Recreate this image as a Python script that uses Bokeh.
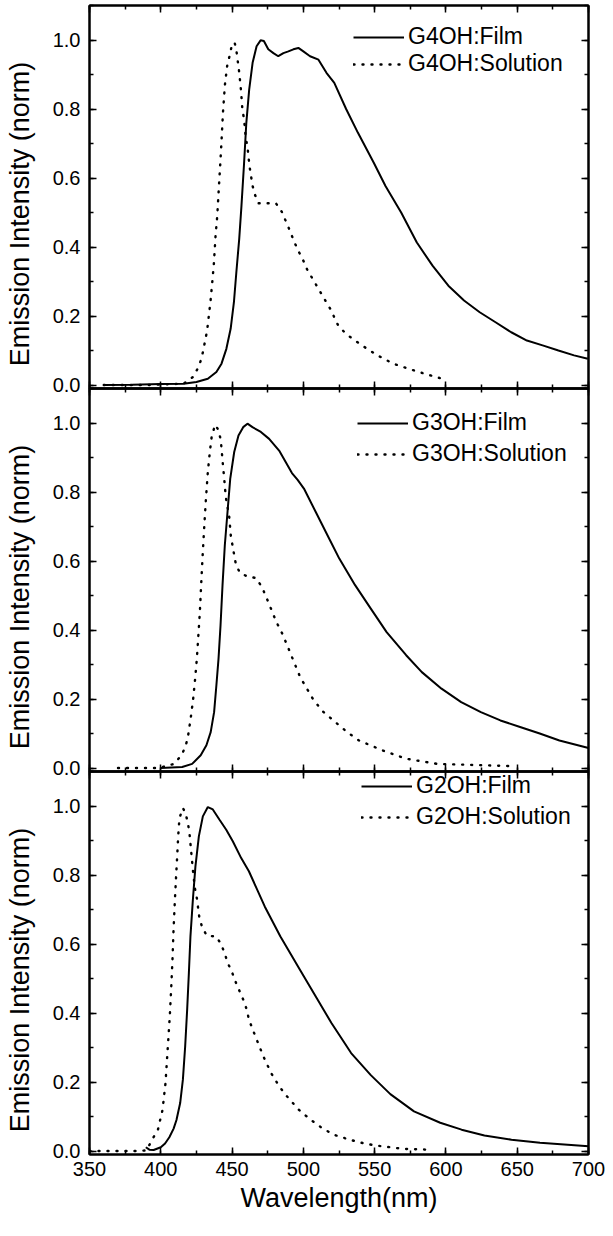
import math
from bokeh.plotting import figure
from bokeh.models import (Range1d, LinearAxis, SingleIntervalTicker, PrintfTickFormatter,
                          Legend, LegendItem)
from bokeh.layouts import column, row
from bokeh.core.properties import value
from bokeh.embed import file_html
from bokeh.resources import INLINE

FONT = "Liberation Sans"

# ---------------- data ----------------
# G4OH
g4_film_x = [360, 380, 400, 416, 425, 433, 439, 442.6, 446, 449, 451.3, 453, 455, 456.6, 458.3, 460,
             462, 464.4, 467.2, 470, 472.3, 475.4, 479, 482.4, 486, 489.5, 493, 496.5, 500, 504.7,
             510.6, 516.2, 521.7, 530, 538.3, 549.3, 557.6, 568.6, 579.6, 590.6, 601.7, 612.7,
             623.7, 634.8, 645.8, 656.8, 667.8, 678.9, 689.9, 699.5]
g4_film_y = [0.0, 0.001, 0.003, 0.004, 0.009, 0.018, 0.038, 0.062, 0.105, 0.163, 0.24, 0.327, 0.423,
             0.52, 0.635, 0.76, 0.856, 0.934, 0.982, 0.999, 0.997, 0.973, 0.962, 0.953, 0.962, 0.967,
             0.973, 0.977, 0.967, 0.953, 0.943, 0.905, 0.876, 0.8, 0.731, 0.645, 0.577, 0.5, 0.413,
             0.346, 0.288, 0.245, 0.211, 0.182, 0.153, 0.129, 0.115, 0.1, 0.086, 0.076]
g4_sol_x = [360, 390, 416, 422.4, 426.1, 428.5, 430, 432.5, 434.8, 436, 437.2, 438.4, 439.6, 440.7,
            441.9, 442.6, 443.6, 445, 446.6, 448.3, 449.7, 451.8, 453.2, 454.9, 456.3, 457.2, 458.4,
            459.6, 460.8, 462.2, 463.3, 464.3, 465.9, 468.5, 474.4, 480.7, 484.9, 487.8, 490.6,
            493.2, 496.2, 499.5, 502.5, 507.9, 513.4, 519, 524.5, 530, 541, 552, 563, 574, 585, 596]
g4_sol_y = [0.0, 0.0, 0.004, 0.023, 0.049, 0.076, 0.105, 0.158, 0.24, 0.293, 0.35, 0.432, 0.49, 0.57,
            0.654, 0.707, 0.789, 0.871, 0.926, 0.955, 0.982, 0.993, 0.964, 0.91, 0.852, 0.8, 0.77,
            0.717, 0.69, 0.635, 0.606, 0.579, 0.553, 0.527, 0.527, 0.527, 0.502, 0.474, 0.447,
            0.419, 0.391, 0.365, 0.336, 0.298, 0.259, 0.22, 0.172, 0.148, 0.115, 0.086, 0.062,
            0.047, 0.033, 0.02]

# G3OH
g3_film_x = [400, 415, 422, 428, 432, 435, 437.4, 439, 440.5, 441.9, 443.3, 444.9, 446.8, 448.7,
             451.5, 454.5, 457.8, 460.8, 464.3, 470.2, 476, 483, 489, 492, 496, 500.4, 508.7, 517,
             525.2, 536.3, 547.3, 558.4, 572.1, 583.1, 596.9, 610.7, 624.5, 638.2, 652, 665.8,
             679.6, 700]
g3_film_y = [0.0, 0.003, 0.012, 0.037, 0.066, 0.104, 0.162, 0.24, 0.317, 0.413, 0.53, 0.645, 0.742,
             0.838, 0.916, 0.964, 0.988, 0.998, 0.988, 0.974, 0.954, 0.92, 0.877, 0.855, 0.835,
             0.81, 0.742, 0.674, 0.607, 0.53, 0.462, 0.394, 0.327, 0.278, 0.23, 0.191, 0.162,
             0.138, 0.119, 0.1, 0.08, 0.058]
g3_sol_x = [370, 385, 398, 409.4, 414.8, 417.6, 419.2, 421.1, 422.7, 424.1, 425.3, 426.5, 427.4,
            428.3, 429.3, 430.4, 431.6, 433, 434.4, 435.8, 438.2, 440.5, 442.1, 443.3, 444.5,
            445.6, 446.8, 448, 449.1, 450.3, 452.6, 455.4, 460.8, 466.7, 470.9, 473.7, 476.5,
            479.1, 482.1, 485.4, 488.2, 490.8, 497.7, 507.3, 514.2, 522.5, 530.8, 539, 555.6,
            572.1, 594, 627, 644]
g3_sol_y = [0.0, 0.0, 0.0, 0.012, 0.039, 0.066, 0.095, 0.148, 0.2, 0.259, 0.317, 0.394, 0.452,
            0.53, 0.612, 0.694, 0.776, 0.858, 0.916, 0.964, 0.995, 0.979, 0.95, 0.892, 0.838,
            0.785, 0.757, 0.728, 0.674, 0.645, 0.592, 0.566, 0.555, 0.551, 0.525, 0.498, 0.47,
            0.443, 0.415, 0.388, 0.36, 0.334, 0.264, 0.196, 0.162, 0.133, 0.104, 0.08, 0.051,
            0.027, 0.012, 0.008, 0.006]

# G2OH
g2_film_x = [389.5, 392, 395, 400, 403, 406, 409, 411, 413.6, 415.5, 417.1, 418.5, 419.7, 420.8,
             422.5, 424.3, 426.7, 429.5, 433, 436.5, 441.2, 445.9, 450.5, 456.4, 461.8, 472.9,
             483.9, 497.7, 508.7, 519.7, 533.5, 547.3, 561, 577.6, 596, 611, 627, 646, 666, 700]
g2_film_y = [0.011, 0.004, 0.003, 0.011, 0.022, 0.04, 0.065, 0.09, 0.139, 0.207, 0.303, 0.41,
             0.516, 0.622, 0.728, 0.825, 0.912, 0.97, 0.997, 0.99, 0.96, 0.931, 0.898, 0.849,
             0.811, 0.709, 0.622, 0.525, 0.448, 0.371, 0.284, 0.22, 0.165, 0.115, 0.082, 0.062,
             0.045, 0.033, 0.024, 0.014]
g2_sol_x = [350, 370, 385, 390, 394.2, 398, 399.6, 401, 401.9, 403.3, 404.2, 405.4, 406.3, 407.3,
            408.2, 408.9, 409.8, 410.8, 411.5, 412.2, 413.1, 415.5, 417.3, 419, 420.1, 421.3,
            422.5, 423.9, 425.3, 427.1, 429, 432.3, 438.8, 442.3, 444.7, 447, 450, 452.4, 455.2,
            458, 460.4, 461.8, 466.4, 472, 477.4, 483, 488.4, 496.7, 505, 513, 521.5, 532.5,
            543.6, 554.6, 571, 587.6]
g2_sol_y = [0.0, 0.0, 0.0, 0.002, 0.035, 0.062, 0.091, 0.115, 0.144, 0.197, 0.255, 0.332, 0.39,
            0.472, 0.554, 0.637, 0.719, 0.801, 0.854, 0.912, 0.965, 0.994, 0.98, 0.951, 0.922,
            0.869, 0.815, 0.762, 0.733, 0.675, 0.649, 0.624, 0.622, 0.6, 0.574, 0.545, 0.518,
            0.491, 0.464, 0.437, 0.409, 0.381, 0.332, 0.274, 0.226, 0.188, 0.159, 0.12, 0.091,
            0.067, 0.047, 0.033, 0.021, 0.014, 0.006, 0.004]

x_min, x_max = 350, 700
y_min, y_max = -0.01, 1.1
y_title = "Emission Intensity (norm)"
x_title = "Wavelength(nm)"

panels = [
    ("G4OH", g4_film_x, g4_film_y, g4_sol_x, g4_sol_y),
    ("G3OH", g3_film_x, g3_film_y, g3_sol_x, g3_sol_y),
    ("G2OH", g2_film_x, g2_film_y, g2_sol_x, g2_sol_y),
]

FRAME_H = 383
TW = 40            # width of the strip holding the rotated y title
PW = 565           # width of each panel figure
BL, BR = 49, 17
OVER = 9           # label overflow shared between stacked panels
tops = [5, OVER, OVER]
bottoms = [OVER, OVER, 65]
legend_loc = [(264, 311), (268, 304), (272, 324)]
legend_spacing = [0, 4, 4]


def style_axis(ax, show_labels, fs="20px"):
    ax.axis_line_width = 2
    ax.axis_line_color = "black"
    ax.major_tick_in = 7
    ax.major_tick_out = 0
    ax.minor_tick_in = 4
    ax.minor_tick_out = 0
    ax.major_tick_line_width = 1.5
    ax.minor_tick_line_width = 1.5
    ax.major_tick_line_color = "black"
    ax.minor_tick_line_color = "black"
    ax.major_label_text_font = FONT
    if show_labels:
        ax.major_label_text_font_size = fs
        ax.major_label_text_color = "black"
    else:
        ax.major_label_text_font_size = "0px"
        ax.major_label_text_color = None
        ax.major_label_standoff = 0


rows = []
for i, (name, fx, fy, sx, sy) in enumerate(panels):
    last = i == len(panels) - 1
    h = FRAME_H + tops[i] + bottoms[i]
    first = i == 0
    fill_alpha = 1 if first else 0

    p = figure(width=PW, height=h, x_range=Range1d(x_min, x_max),
               y_range=Range1d(y_min, y_max), output_backend="svg", toolbar_location=None,
               min_border_left=BL, min_border_right=BR, min_border_top=tops[i],
               min_border_bottom=bottoms[i], background_fill_color="white",
               background_fill_alpha=fill_alpha, border_fill_color="white",
               border_fill_alpha=fill_alpha, outline_line_color="black", outline_line_width=2)
    p.xgrid.visible = False
    p.ygrid.visible = False

    p.xaxis.ticker = SingleIntervalTicker(interval=50, num_minor_ticks=2)
    style_axis(p.xaxis[0], last)
    if last:
        p.xaxis.major_label_standoff = 7
        p.xaxis.axis_label = x_title
        p.xaxis.axis_label_text_font = FONT
        p.xaxis.axis_label_text_font_size = "27px"
        p.xaxis.axis_label_text_font_style = "normal"
        p.xaxis.axis_label_standoff = 4
        p.xaxis.axis_label_text_color = "black"

    p.yaxis.ticker = SingleIntervalTicker(interval=0.2, num_minor_ticks=2)
    p.yaxis.formatter = PrintfTickFormatter(format="%.1f")
    style_axis(p.yaxis[0], True)
    p.yaxis.major_label_standoff = 9

    top_ax = LinearAxis(ticker=SingleIntervalTicker(interval=50, num_minor_ticks=2))
    style_axis(top_ax, False)
    p.add_layout(top_ax, "above")
    right_ax = LinearAxis(ticker=SingleIntervalTicker(interval=0.2, num_minor_ticks=2))
    style_axis(right_ax, False)
    p.add_layout(right_ax, "right")

    r_film = p.line(fx, fy, line_color="black", line_width=2)
    r_sol = p.line(sx, sy, line_color="black", line_width=2.4, line_dash="1 8",
                   line_cap="round")

    leg = Legend(items=[LegendItem(label=name + ":Film", renderers=[r_film]),
                        LegendItem(label=name + ":Solution", renderers=[r_sol])],
                 location=legend_loc[i], label_text_font=FONT, label_text_font_size="23px",
                 label_text_color="black", glyph_width=51, glyph_height=26, label_height=26,
                 label_standoff=4, spacing=legend_spacing[i], padding=0, margin=0,
                 border_line_color=None, background_fill_alpha=0)
    p.add_layout(leg)

    # strip with the rotated y-axis title
    t = figure(width=TW, height=h, x_range=Range1d(0, TW), y_range=Range1d(0, FRAME_H),
               output_backend="svg", toolbar_location=None, x_axis_location=None,
               y_axis_location=None, min_border_left=0, min_border_right=0,
               min_border_top=tops[i], min_border_bottom=bottoms[i], outline_line_color=None,
               background_fill_alpha=0, border_fill_alpha=0)
    t.grid.visible = False
    t.text(x=[19.5], y=[FRAME_H / 2 - 17], text=[y_title], angle=math.pi / 2,
           text_align="center", text_baseline="middle", text_font=value(FONT),
           text_font_size="27px", text_color="black")

    if first:
        rows.append(row(t, p))
    else:
        rows.append(row(t, p, margin=(-2 * OVER, 0, 0, 0)))

layout = column(*rows)
open("out.html", "w").write(file_html(layout, INLINE))
